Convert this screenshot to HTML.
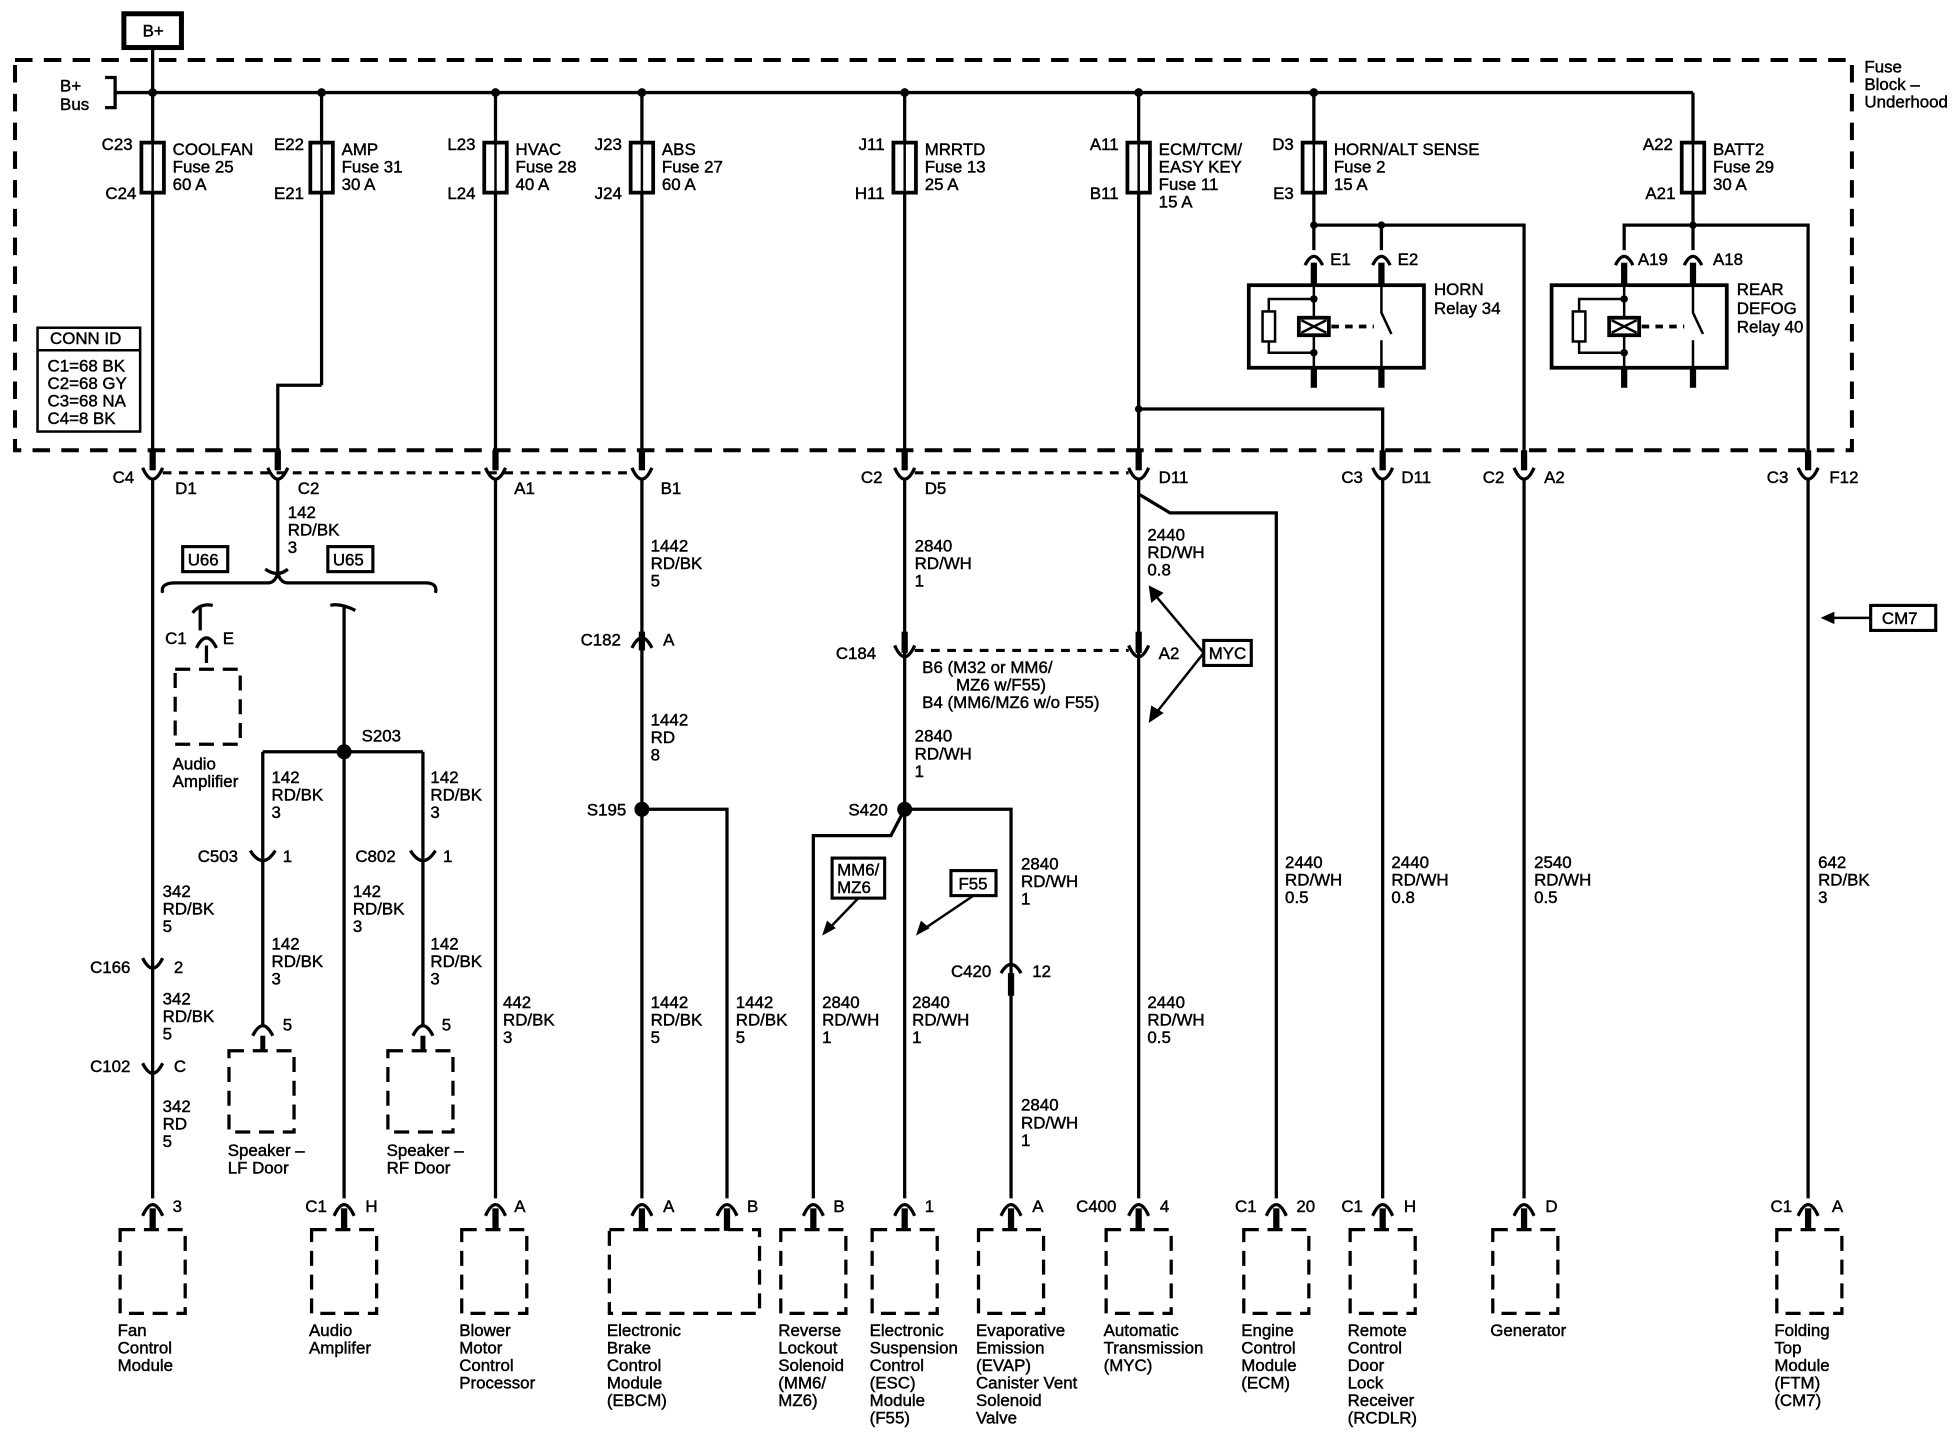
<!DOCTYPE html>
<html><head><meta charset="utf-8"><style>
html,body{margin:0;padding:0;background:#fff;}
svg{display:block;}
text{font-family:"Liberation Sans",Arial,sans-serif;font-size:13.5px;fill:#000;stroke:#000;stroke-width:0.35;}
</style></head><body>
<svg width="1952" height="1456" viewBox="0 0 1560 1164" preserveAspectRatio="none" xmlns="http://www.w3.org/2000/svg">
<g fill="none" stroke="#000" stroke-width="2.6">
<rect x="12" y="48" width="1468" height="312" stroke-width="3.2" stroke-dasharray="14 9"/>
<rect x="99" y="11" width="46" height="27" stroke-width="4"/>
<line x1="122" y1="38" x2="122" y2="48"/>
<line x1="92" y1="74" x2="1353" y2="74"/>
<path d="M84 62 H92 V86 H84" />
<line x1="122" y1="48" x2="122" y2="374"/>
<line x1="257" y1="74" x2="257" y2="308"/><path d="M257 308 H222 V374"/>
<line x1="396" y1="74" x2="396" y2="374"/>
<line x1="513" y1="74" x2="513" y2="374"/>
<line x1="723" y1="74" x2="723" y2="374"/>
<line x1="910" y1="74" x2="910" y2="374"/>
<path d="M910 327 H1105 V374"/>
<line x1="1050" y1="74" x2="1050" y2="200"/>
<path d="M1050 180 H1218 V374"/>
<line x1="1104" y1="180" x2="1104" y2="200"/>
<line x1="1353" y1="74" x2="1353" y2="200"/>
<path d="M1298 200 V180 H1445 V374"/>
<g fill="#fff" stroke-width="3">
<rect x="113" y="114" width="18" height="40"/><rect x="248" y="114" width="18" height="40"/>
<rect x="387" y="114" width="18" height="40"/><rect x="504" y="114" width="18" height="40"/>
<rect x="714" y="114" width="18" height="40"/><rect x="901" y="114" width="18" height="40"/>
<rect x="1041" y="114" width="18" height="40"/><rect x="1344" y="114" width="18" height="40"/>
</g>
<g stroke-width="2">
<line x1="122" y1="114" x2="122" y2="154"/><line x1="257" y1="114" x2="257" y2="154"/>
<line x1="396" y1="114" x2="396" y2="154"/><line x1="513" y1="114" x2="513" y2="154"/>
<line x1="723" y1="114" x2="723" y2="154"/><line x1="910" y1="114" x2="910" y2="154"/>
<line x1="1050" y1="114" x2="1050" y2="154"/><line x1="1353" y1="114" x2="1353" y2="154"/>
</g>
<rect x="998" y="228" width="140" height="66" stroke-width="3"/>
<rect x="1240" y="228" width="140" height="66" stroke-width="3"/>
<g stroke-width="5">
<line x1="1050" y1="210" x2="1050" y2="228"/><line x1="1104" y1="210" x2="1104" y2="228"/>
<line x1="1050" y1="294" x2="1050" y2="310"/><line x1="1104" y1="294" x2="1104" y2="310"/>
<line x1="1298" y1="210" x2="1298" y2="228"/><line x1="1353" y1="210" x2="1353" y2="228"/>
<line x1="1298" y1="294" x2="1298" y2="310"/><line x1="1353" y1="294" x2="1353" y2="310"/>
</g>
<g stroke-width="2">
<line x1="1050" y1="228" x2="1050" y2="294"/><path d="M1050 239 H1014 V282 H1050"/>
<rect x="1009" y="249" width="10" height="24" fill="#fff"/>
<rect x="1038" y="254" width="24" height="14" fill="#fff" stroke-width="3"/>
<path d="M1040 256 L1060 266 M1060 256 L1040 266"/>
<line x1="1064" y1="261" x2="1098" y2="261" stroke-width="3" stroke-dasharray="6 5"/>
<path d="M1104 228 V250 L1112 267 M1104 272 V294"/>
<line x1="1298" y1="228" x2="1298" y2="294"/><path d="M1298 239 H1262 V282 H1298"/>
<rect x="1257" y="249" width="10" height="24" fill="#fff"/>
<rect x="1286" y="254" width="24" height="14" fill="#fff" stroke-width="3"/>
<path d="M1288 256 L1308 266 M1308 256 L1288 266"/>
<line x1="1312" y1="261" x2="1346" y2="261" stroke-width="3" stroke-dasharray="6 5"/>
<path d="M1353 228 V250 L1361 267 M1353 272 V294"/>
</g>
<path d="M1043 212 Q1050 198 1057 212 M1097 212 Q1104 198 1111 212 M1291 212 Q1298 198 1305 212 M1346 212 Q1353 198 1360 212"/>
<rect x="30" y="262" width="82" height="83" stroke-width="2"/>
<line x1="30" y1="280" x2="112" y2="280" stroke-width="2"/>
<line x1="130" y1="378" x2="505" y2="378" stroke-width="2.5" stroke-dasharray="7 6"/>
<line x1="731" y1="378" x2="902" y2="378" stroke-width="2.5" stroke-dasharray="7 6"/>
<line x1="731" y1="520" x2="902" y2="520" stroke-width="2.5" stroke-dasharray="7 6"/>
<path d="M114 374 Q122 392 130 374 M214 374 Q222 392 230 374 M388 374 Q396 392 404 374 M505 374 Q513 392 521 374 M715 374 Q723 392 731 374 M902 374 Q910 392 918 374 M1097 374 Q1105 392 1113 374 M1210 374 Q1218 392 1226 374 M1437 374 Q1445 392 1453 374"/>
<g stroke-width="5">
<line x1="122" y1="360" x2="122" y2="376"/><line x1="222" y1="360" x2="222" y2="376"/><line x1="396" y1="360" x2="396" y2="376"/><line x1="513" y1="360" x2="513" y2="376"/><line x1="723" y1="360" x2="723" y2="376"/><line x1="910" y1="360" x2="910" y2="376"/><line x1="1105" y1="360" x2="1105" y2="376"/><line x1="1218" y1="360" x2="1218" y2="376"/><line x1="1445" y1="360" x2="1445" y2="376"/>
</g>
<line x1="122" y1="383" x2="122" y2="958"/>
<line x1="222" y1="383" x2="222" y2="462"/>
<line x1="396" y1="383" x2="396" y2="958"/>
<line x1="513" y1="383" x2="513" y2="958"/>
<path d="M513 647 H581 V958"/>
<line x1="723" y1="383" x2="723" y2="958"/>
<path d="M723 647 L712 668 H650 V958"/>
<path d="M723 647 H808 V958"/>
<line x1="910" y1="383" x2="910" y2="958"/>
<path d="M910 395 L935 410 H1020 V958"/>
<line x1="1105" y1="383" x2="1105" y2="958"/>
<line x1="1218" y1="383" x2="1218" y2="958"/>
<line x1="1445" y1="383" x2="1445" y2="958"/>
<path d="M212 455 Q222 462 230 455 M130 474 Q128 466 140 466 H214 Q220 466 222 458 Q224 466 230 466 H340 Q350 466 348 474"/>
<path d="M154 490 Q160 482 170 484 M160 484 V504"/>
<path d="M264 484 Q272 482 284 488 M275 484 V958"/>
<line x1="165" y1="516" x2="165" y2="530"/>
<path d="M157 518 Q165 502 173 518"/>
<path d="M505 518 Q513 502 521 518"/><line x1="513" y1="505" x2="513" y2="520" stroke-width="5"/>
<path d="M715 516 Q723 534 731 516"/><line x1="723" y1="505" x2="723" y2="522" stroke-width="5"/>
<path d="M902 516 Q910 534 918 516"/><line x1="910" y1="505" x2="910" y2="522" stroke-width="5"/>
<path d="M114 766 Q122 782 130 766 M114 850 Q122 866 130 850"/>
<path d="M200 680 Q210 696 220 680 M328 680 Q338 696 348 680"/>
<path d="M800 778 Q808 764 816 778"/><line x1="808" y1="778" x2="808" y2="796" stroke-width="5"/>
<path d="M202 828 Q210 812 218 828 M330 828 Q338 812 346 828"/>
<line x1="210" y1="828" x2="210" y2="840" stroke-width="4"/><line x1="338" y1="828" x2="338" y2="840" stroke-width="4"/>
<path d="M210 601 H338 M210 601 V820 M338 601 V820"/>
<g>
<path d="M114 972 Q122 954 130 972 M388 972 Q396 954 404 972 M505 972 Q513 954 521 972 M573 972 Q581 954 589 972 M642 972 Q650 954 658 972 M715 972 Q723 954 731 972 M800 972 Q808 954 816 972 M902 972 Q910 954 918 972 M1012 972 Q1020 954 1028 972 M1097 972 Q1105 954 1113 972 M1210 972 Q1218 954 1226 972 M1437 972 Q1445 954 1453 972 M267 972 Q275 954 283 972"/>
<g stroke-width="5">
<line x1="122" y1="966" x2="122" y2="984"/><line x1="275" y1="966" x2="275" y2="984"/><line x1="396" y1="966" x2="396" y2="984"/><line x1="513" y1="966" x2="513" y2="984"/><line x1="581" y1="966" x2="581" y2="984"/><line x1="650" y1="966" x2="650" y2="984"/><line x1="723" y1="966" x2="723" y2="984"/><line x1="808" y1="966" x2="808" y2="984"/><line x1="910" y1="966" x2="910" y2="984"/><line x1="1020" y1="966" x2="1020" y2="984"/><line x1="1105" y1="966" x2="1105" y2="984"/><line x1="1218" y1="966" x2="1218" y2="984"/><line x1="1445" y1="966" x2="1445" y2="984"/>
</g>
</g>
<g stroke-width="2.6" stroke-dasharray="12 7">
<rect x="96" y="983" width="52" height="67"/><rect x="249" y="983" width="52" height="67"/>
<rect x="369" y="983" width="52" height="67"/><rect x="487" y="983" width="120" height="67"/>
<rect x="624" y="983" width="52" height="67"/><rect x="697" y="983" width="52" height="67"/>
<rect x="782" y="983" width="52" height="67"/><rect x="884" y="983" width="52" height="67"/>
<rect x="994" y="983" width="52" height="67"/><rect x="1079" y="983" width="52" height="67"/>
<rect x="1193" y="983" width="52" height="67"/><rect x="1420" y="983" width="52" height="67"/>
<rect x="140" y="535" width="52" height="60"/><rect x="183" y="840" width="52" height="65"/>
<rect x="310" y="840" width="52" height="65"/>
</g>
<g stroke-width="2.5">
<rect x="146" y="437" width="36" height="20"/><rect x="262" y="437" width="36" height="20"/>
<rect x="962" y="512" width="38" height="20"/><rect x="665" y="686" width="42" height="32"/>
<rect x="760" y="696" width="36" height="20"/><rect x="1495" y="484" width="52" height="20"/>
<path d="M962 522 L920 472 M962 522 L920 575 M686 718 L660 745 M778 716 L735 745 M1495 494 H1458" stroke-width="2"/>
</g>
</g>
<g fill="#000">
<circle cx="122" cy="74" r="3.5"/><circle cx="257" cy="74" r="3.5"/><circle cx="396" cy="74" r="3.5"/><circle cx="513" cy="74" r="3.5"/><circle cx="723" cy="74" r="3.5"/><circle cx="910" cy="74" r="3.5"/><circle cx="1050" cy="74" r="3.5"/>
<circle cx="1050" cy="180" r="3"/><circle cx="1104" cy="180" r="3"/><circle cx="1353" cy="180" r="3"/><circle cx="910" cy="327" r="3"/>
<circle cx="1050" cy="239" r="3"/><circle cx="1050" cy="282" r="3"/><circle cx="1298" cy="239" r="3"/><circle cx="1298" cy="282" r="3"/>
<circle cx="275" cy="601" r="6"/><circle cx="513" cy="647" r="6"/><circle cx="723" cy="647" r="6"/>
<polygon points="918,468 920,482 930,474"/><polygon points="918,578 930,570 920,564"/>
<polygon points="657,748 661,736 668,742"/><polygon points="732,748 736,736 743,742"/>
<polygon points="1455,494 1466,489 1466,499"/>
</g>
<g>
<text x="114" y="29">B+</text>
<text x="48" y="73">B+</text><text x="48" y="88">Bus</text>
<text x="1490" y="58">Fuse</text><text x="1490" y="72">Block –</text><text x="1490" y="86">Underhood</text>
<g text-anchor="end">
<text x="106" y="120">C23</text><text x="109" y="159">C24</text>
<text x="243" y="120">E22</text><text x="243" y="159">E21</text>
<text x="380" y="120">L23</text><text x="380" y="159">L24</text>
<text x="497" y="120">J23</text><text x="497" y="159">J24</text>
<text x="707" y="120">J11</text><text x="707" y="159">H11</text>
<text x="894" y="120">A11</text><text x="894" y="159">B11</text>
<text x="1034" y="120">D3</text><text x="1034" y="159">E3</text>
<text x="1337" y="120">A22</text><text x="1339" y="159">A21</text>
</g>
<text x="138" y="124">COOLFAN</text><text x="138" y="138">Fuse 25</text><text x="138" y="152">60 A</text>
<text x="273" y="124">AMP</text><text x="273" y="138">Fuse 31</text><text x="273" y="152">30 A</text>
<text x="412" y="124">HVAC</text><text x="412" y="138">Fuse 28</text><text x="412" y="152">40 A</text>
<text x="529" y="124">ABS</text><text x="529" y="138">Fuse 27</text><text x="529" y="152">60 A</text>
<text x="739" y="124">MRRTD</text><text x="739" y="138">Fuse 13</text><text x="739" y="152">25 A</text>
<text x="926" y="124">ECM/TCM/</text><text x="926" y="138">EASY KEY</text><text x="926" y="152">Fuse 11</text><text x="926" y="166">15 A</text>
<text x="1066" y="124">HORN/ALT SENSE</text><text x="1066" y="138">Fuse 2</text><text x="1066" y="152">15 A</text>
<text x="1369" y="124">BATT2</text><text x="1369" y="138">Fuse 29</text><text x="1369" y="152">30 A</text>
<text x="1063" y="212">E1</text><text x="1117" y="212">E2</text>
<text x="1309" y="212">A19</text><text x="1369" y="212">A18</text>
<text x="1146" y="236">HORN</text><text x="1146" y="251">Relay 34</text>
<text x="1388" y="236">REAR</text><text x="1388" y="251">DEFOG</text><text x="1388" y="266">Relay 40</text>
<text x="40" y="275">CONN ID</text>
<text x="38" y="297">C1=68 BK</text><text x="38" y="311">C2=68 GY</text><text x="38" y="325">C3=68 NA</text><text x="38" y="339">C4=8 BK</text>
<text x="90" y="386">C4</text><text x="140" y="395">D1</text>
<text x="238" y="395">C2</text><text x="411" y="395">A1</text><text x="528" y="395">B1</text>
<text x="688" y="386">C2</text><text x="739" y="395">D5</text><text x="926" y="386">D11</text>
<text x="1072" y="386">C3</text><text x="1120" y="386">D11</text>
<text x="1185" y="386">C2</text><text x="1234" y="386">A2</text>
<text x="1412" y="386">C3</text><text x="1462" y="386">F12</text>
<text x="230" y="414">142</text><text x="230" y="428">RD/BK</text><text x="230" y="442">3</text>
<text x="150" y="452">U66</text><text x="266" y="452">U65</text>
<text x="132" y="515">C1</text><text x="178" y="515">E</text>
<text x="138" y="615">Audio</text><text x="138" y="629">Amplifier</text>
<text x="289" y="593">S203</text>
<text x="217" y="626">142</text><text x="217" y="640">RD/BK</text><text x="217" y="654">3</text>
<text x="344" y="626">142</text><text x="344" y="640">RD/BK</text><text x="344" y="654">3</text>
<text x="158" y="689">C503</text><text x="226" y="689">1</text>
<text x="284" y="689">C802</text><text x="354" y="689">1</text>
<text x="282" y="717">142</text><text x="282" y="731">RD/BK</text><text x="282" y="745">3</text>
<text x="217" y="759">142</text><text x="217" y="773">RD/BK</text><text x="217" y="787">3</text>
<text x="344" y="759">142</text><text x="344" y="773">RD/BK</text><text x="344" y="787">3</text>
<text x="226" y="824">5</text><text x="353" y="824">5</text>
<text x="182" y="924">Speaker –</text><text x="182" y="938">LF Door</text>
<text x="309" y="924">Speaker –</text><text x="309" y="938">RF Door</text>
<text x="130" y="717">342</text><text x="130" y="731">RD/BK</text><text x="130" y="745">5</text>
<text x="72" y="778">C166</text><text x="139" y="778">2</text>
<text x="130" y="803">342</text><text x="130" y="817">RD/BK</text><text x="130" y="831">5</text>
<text x="72" y="857">C102</text><text x="139" y="857">C</text>
<text x="130" y="889">342</text><text x="130" y="903">RD</text><text x="130" y="917">5</text>
<text x="402" y="806">442</text><text x="402" y="820">RD/BK</text><text x="402" y="834">3</text>
<text x="520" y="441">1442</text><text x="520" y="455">RD/BK</text><text x="520" y="469">5</text>
<text x="464" y="516">C182</text><text x="530" y="516">A</text>
<text x="520" y="580">1442</text><text x="520" y="594">RD</text><text x="520" y="608">8</text>
<text x="469" y="652">S195</text>
<text x="520" y="806">1442</text><text x="520" y="820">RD/BK</text><text x="520" y="834">5</text>
<text x="588" y="806">1442</text><text x="588" y="820">RD/BK</text><text x="588" y="834">5</text>
<text x="731" y="441">2840</text><text x="731" y="455">RD/WH</text><text x="731" y="469">1</text>
<text x="668" y="527">C184</text>
<text x="737" y="538">B6 (M32 or MM6/</text><text x="764" y="552">MZ6 w/F55)</text><text x="737" y="566">B4 (MM6/MZ6 w/o F55)</text>
<text x="731" y="593">2840</text><text x="731" y="607">RD/WH</text><text x="731" y="621">1</text>
<text x="678" y="652">S420</text>
<text x="669" y="700">MM6/</text><text x="669" y="714">MZ6</text>
<text x="766" y="711">F55</text>
<text x="816" y="695">2840</text><text x="816" y="709">RD/WH</text><text x="816" y="723">1</text>
<text x="760" y="781">C420</text><text x="825" y="781">12</text>
<text x="657" y="806">2840</text><text x="657" y="820">RD/WH</text><text x="657" y="834">1</text>
<text x="729" y="806">2840</text><text x="729" y="820">RD/WH</text><text x="729" y="834">1</text>
<text x="816" y="888">2840</text><text x="816" y="902">RD/WH</text><text x="816" y="916">1</text>
<text x="917" y="432">2440</text><text x="917" y="446">RD/WH</text><text x="917" y="460">0.8</text>
<text x="966" y="527">MYC</text><text x="926" y="527">A2</text>
<text x="917" y="806">2440</text><text x="917" y="820">RD/WH</text><text x="917" y="834">0.5</text>
<text x="1027" y="694">2440</text><text x="1027" y="708">RD/WH</text><text x="1027" y="722">0.5</text>
<text x="1112" y="694">2440</text><text x="1112" y="708">RD/WH</text><text x="1112" y="722">0.8</text>
<text x="1226" y="694">2540</text><text x="1226" y="708">RD/WH</text><text x="1226" y="722">0.5</text>
<text x="1453" y="694">642</text><text x="1453" y="708">RD/BK</text><text x="1453" y="722">3</text>
<text x="1504" y="499">CM7</text>
<text x="138" y="969">3</text><text x="244" y="969">C1</text><text x="292" y="969">H</text>
<text x="411" y="969">A</text><text x="530" y="969">A</text><text x="597" y="969">B</text>
<text x="666" y="969">B</text><text x="739" y="969">1</text><text x="825" y="969">A</text>
<text x="860" y="969">C400</text><text x="927" y="969">4</text>
<text x="987" y="969">C1</text><text x="1036" y="969">20</text>
<text x="1072" y="969">C1</text><text x="1122" y="969">H</text>
<text x="1235" y="969">D</text><text x="1415" y="969">C1</text><text x="1464" y="969">A</text>
<text x="94" y="1068">Fan</text><text x="94" y="1082">Control</text><text x="94" y="1096">Module</text>
<text x="247" y="1068">Audio</text><text x="247" y="1082">Amplifer</text>
<text x="367" y="1068">Blower</text><text x="367" y="1082">Motor</text><text x="367" y="1096">Control</text><text x="367" y="1110">Processor</text>
<text x="485" y="1068">Electronic</text><text x="485" y="1082">Brake</text><text x="485" y="1096">Control</text><text x="485" y="1110">Module</text><text x="485" y="1124">(EBCM)</text>
<text x="622" y="1068">Reverse</text><text x="622" y="1082">Lockout</text><text x="622" y="1096">Solenoid</text><text x="622" y="1110">(MM6/</text><text x="622" y="1124">MZ6)</text>
<text x="695" y="1068">Electronic</text><text x="695" y="1082">Suspension</text><text x="695" y="1096">Control</text><text x="695" y="1110">(ESC)</text><text x="695" y="1124">Module</text><text x="695" y="1138">(F55)</text>
<text x="780" y="1068">Evaporative</text><text x="780" y="1082">Emission</text><text x="780" y="1096">(EVAP)</text><text x="780" y="1110">Canister Vent</text><text x="780" y="1124">Solenoid</text><text x="780" y="1138">Valve</text>
<text x="882" y="1068">Automatic</text><text x="882" y="1082">Transmission</text><text x="882" y="1096">(MYC)</text>
<text x="992" y="1068">Engine</text><text x="992" y="1082">Control</text><text x="992" y="1096">Module</text><text x="992" y="1110">(ECM)</text>
<text x="1077" y="1068">Remote</text><text x="1077" y="1082">Control</text><text x="1077" y="1096">Door</text><text x="1077" y="1110">Lock</text><text x="1077" y="1124">Receiver</text><text x="1077" y="1138">(RCDLR)</text>
<text x="1191" y="1068">Generator</text>
<text x="1418" y="1068">Folding</text><text x="1418" y="1082">Top</text><text x="1418" y="1096">Module</text><text x="1418" y="1110">(FTM)</text><text x="1418" y="1124">(CM7)</text>
</g>
</svg>
</body></html>
